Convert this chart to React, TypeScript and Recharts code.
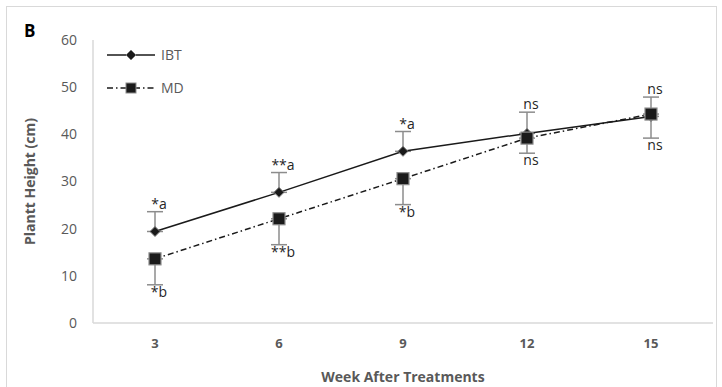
import { ErrorBar, LabelList, Line, LineChart, XAxis, YAxis } from "recharts";

const weeks = ["3", "6", "9", "12", "15"];
const ibt = [19.4, 27.7, 36.4, 40.2, 43.8];
const md = [13.6, 22.1, 30.6, 39.2, 44.3];
const ibtErr = [4.2, 4.2, 4.2, 4.5, 4.1];
const mdErr = [5.5, 5.5, 5.5, 3.2, 5.1];
const ibtSig = ["*a", "**a", "*a", "ns", "ns"];
const mdSig = ["*b", "**b", "*b", "ns", "ns"];

const data = weeks.map((w, i) => ({
  week: w,
  IBT: ibt[i],
  MD: md[i],
  ibtErr: [0, ibtErr[i]],
  mdErr: [mdErr[i], 0],
  ibtTop: ibt[i] + ibtErr[i],
  mdBottom: md[i] - mdErr[i],
  ibtSig: ibtSig[i],
  mdSig: mdSig[i],
}));

const font = "'Open Sans', sans-serif";
const DASH = "6 3 1.5 3";

function Diamond({ cx, cy }: any) {
  if (cx == null || cy == null) return null;
  const r = 5;
  return (
    <path
      d={`M${cx},${cy - r}L${cx + r},${cy}L${cx},${cy + r}L${cx - r},${cy}Z`}
      fill="#1a1a1a"
      stroke="#7f7f7f"
      strokeWidth={1}
    />
  );
}

function Square({ cx, cy }: any) {
  if (cx == null || cy == null) return null;
  const s = 12;
  return <rect x={cx - s / 2} y={cy - s / 2} width={s} height={s} fill="#1a1a1a" stroke="#8c8c8c" strokeWidth={1.2} />;
}

function LegendBox() {
  return (
    <svg width={110} height={60} style={{ position: "absolute", left: 105, top: 45 }}>
      <line x1={2} y1={10} x2={50} y2={10} stroke="#1a1a1a" strokeWidth={1.5} />
      <path d="M26,5L31,10L26,15L21,10Z" fill="#1a1a1a" stroke="#7f7f7f" />
      <text x={56} y={15} fontFamily={font} fontSize={14} fill="#595959">IBT</text>
      <line x1={2} y1={43} x2={50} y2={43} stroke="#1a1a1a" strokeWidth={1.5} strokeDasharray={DASH} />
      <rect x={21} y={38} width={10} height={10} fill="#1a1a1a" stroke="#8c8c8c" />
      <text x={56} y={48} fontFamily={font} fontSize={14} fill="#595959">MD</text>
    </svg>
  );
}

export default function App() {
  return (
    <div style={{ position: "fixed", left: 0, top: 0, width: 722, height: 387, background: "#fff", fontFamily: font }}>
      <div style={{ position: "absolute", left: 6, top: 6, width: 711, height: 385, border: "1px solid #d9d9d9", boxSizing: "border-box" }} />
      <div style={{ position: "absolute", left: 24, top: 19, fontSize: 17, fontWeight: 700, color: "#000" }}>B</div>
      <div style={{ position: "absolute", left: 0, top: 0 }}>
        <LineChart width={722} height={387} data={data} margin={{ top: 40, right: 9, bottom: 0, left: 0 }}>
          <XAxis
            dataKey="week"
            padding={{ left: 62, right: 62 }}
            axisLine={{ stroke: "#d9d9d9", strokeWidth: 1.5 }}
            tickLine={false}
            tick={{ fill: "#595959", fontSize: 13, fontWeight: 700, fontFamily: font }}
            tickMargin={10}
            height={64}
            label={{ value: "Week After Treatments", position: "insideBottom", offset: 5, fill: "#595959", fontSize: 14, fontWeight: 700, fontFamily: font }}
          />
          <YAxis
            domain={[0, 60]}
            ticks={[0, 10, 20, 30, 40, 50, 60]}
            width={93}
            axisLine={{ stroke: "#d9d9d9", strokeWidth: 1.5 }}
            tickLine={false}
            tickMargin={10}
            tick={{ fill: "#595959", fontSize: 14, fontFamily: font }}
            label={{ value: "Plantt Height (cm)", angle: -90, position: "insideLeft", offset: 30, fill: "#595959", fontSize: 14, fontWeight: 700, fontFamily: font, style: { textAnchor: "middle" } }}
          />
          <Line
            dataKey="IBT"
            stroke="#1a1a1a"
            strokeWidth={1.5}
            dot={<Diamond />}
            activeDot={false}
            isAnimationActive={false}
          >
            <ErrorBar dataKey="ibtErr" direction="y" width={8} stroke="#8c8c8c" strokeWidth={1.5} />
          </Line>
          <Line
            dataKey="MD"
            stroke="#1a1a1a"
            strokeWidth={1.5}
            strokeDasharray={DASH}
            dot={<Square />}
            activeDot={false}
            isAnimationActive={false}
          >
            <ErrorBar dataKey="mdErr" direction="y" width={8} stroke="#8c8c8c" strokeWidth={1.5} />
          </Line>
          <Line dataKey="ibtTop" stroke="none" dot={false} activeDot={false} legendType="none" isAnimationActive={false}>
            <LabelList dataKey="ibtSig" position="top" offset={3} dx={4} fill="#262626" fontSize={14} fontFamily={font} />
          </Line>
          <Line dataKey="mdBottom" stroke="none" dot={false} activeDot={false} legendType="none" isAnimationActive={false}>
            <LabelList dataKey="mdSig" position="bottom" offset={2} dx={4} fill="#262626" fontSize={14} fontFamily={font} />
          </Line>
        </LineChart>
      </div>
      <LegendBox />
    </div>
  );
}
